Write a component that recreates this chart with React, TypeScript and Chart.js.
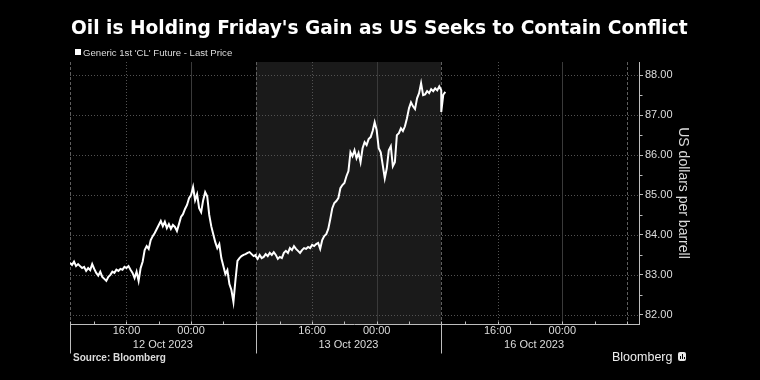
import React, { useEffect, useRef } from "react";
import { Chart, registerables } from "chart.js";

Chart.register(...registerables);

const FONT = "'Liberation Sans', Arial, sans-serif";

// ---- Data ----
const titleText = "Oil is Holding Friday's Gain as US Seeks to Contain Conflict";
const seriesName = "Generic 1st 'CL' Future - Last Price";
const yAxisTitle = "US dollars per barrell";
const sourceText = "Source: Bloomberg";

const sessionLabels = ["12 Oct 2023", "13 Oct 2023", "16 Oct 2023"];
const sessionStartHours = [0, 23, 46]; // hours since 12 Oct session open (09:00)
const sessionLength = 23;
const timeTickLabels = ["16:00", "00:00"];
const timeTickOffsets = [7, 15];
const minorTickOffsets = [3, 7, 11, 15, 19];
const sampleStepHours = 0.25;

const yTickValues = [82, 83, 84, 85, 86, 87, 88];
const yMin = 81.77;
const yMax = 88.33;
const xMax = 70.5;

const oct12Prices = [
  83.30, 83.25, 83.33, 83.22, 83.27, 83.22, 83.17, 83.20, 83.10, 83.17,
  83.12, 83.27, 83.15, 83.05, 82.98, 83.08, 82.95, 82.90, 82.85, 82.95,
  83.00, 83.08, 83.05, 83.13, 83.10, 83.15, 83.13, 83.20, 83.17, 83.22,
  83.13, 83.05, 82.92, 83.08, 82.85, 83.17, 83.33, 83.62, 83.72, 83.65,
  83.87, 83.97, 84.05, 84.15, 84.25, 84.35, 84.22, 84.33, 84.17, 84.27,
  84.15, 84.25, 84.20, 84.10, 84.27, 84.45, 84.52, 84.65, 84.75, 84.92,
  85.00, 85.20, 84.87, 85.02, 84.67, 84.57, 84.87, 85.07, 84.97, 84.50,
  84.22, 84.02, 83.82, 83.67, 83.77, 83.42, 83.22, 83.02, 83.12, 82.77,
  82.62, 82.32, 82.87, 83.35, 83.42, 83.47, 83.50, 83.52, 83.55, 83.57,
  83.52, 83.47, 83.50,
];

const oct13Prices = [
  83.47, 83.40, 83.50, 83.42, 83.45, 83.52, 83.47, 83.55, 83.50, 83.57,
  83.50, 83.40, 83.45, 83.42, 83.55, 83.60, 83.55, 83.67, 83.62, 83.72,
  83.65, 83.60, 83.55, 83.62, 83.67, 83.65, 83.70, 83.67, 83.75, 83.72,
  83.77, 83.80, 83.65, 83.87, 83.97, 84.02, 84.15, 84.40, 84.67, 84.80,
  84.85, 84.92, 85.17, 85.25, 85.30, 85.47, 85.60, 86.07, 85.97, 86.12,
  85.92, 86.05, 85.82, 86.17, 86.32, 86.25, 86.40, 86.45, 86.60, 86.82,
  86.62, 86.17, 86.07, 85.75, 85.42, 85.67, 86.12, 86.22, 85.72, 85.82,
  86.50, 86.55, 86.67, 86.60, 86.72, 86.92, 87.17, 87.32, 87.22, 87.15,
  87.42, 87.55, 87.80, 87.50, 87.52, 87.60, 87.55, 87.65, 87.60, 87.67,
  87.62, 87.72, 87.62,
];

const oct16Prices = [87.08, 87.51, 87.58];

function buildPoints(start: number, prices: number[]) {
  return prices.map((p, i) => ({ x: start + i * sampleStepHours, y: p }));
}

function hLine(ctx: CanvasRenderingContext2D, x1: number, x2: number, y: number) {
  ctx.beginPath();
  ctx.moveTo(x1, y);
  ctx.lineTo(x2, y);
  ctx.stroke();
}
function vLine(ctx: CanvasRenderingContext2D, x: number, y1: number, y2: number) {
  ctx.beginPath();
  ctx.moveTo(x, y1);
  ctx.lineTo(x, y2);
  ctx.stroke();
}

const decorPlugin = {
  id: "bbgDecor",
  beforeDatasetsDraw(chart: any) {
    const { ctx, chartArea: a, scales } = chart;
    const x = scales.x;
    const y = scales.y;
    const px = (v: number) => Math.round(x.getPixelForValue(v)) + 0.5;
    ctx.save();
    // shaded middle session
    const s1 = Math.round(x.getPixelForValue(sessionStartHours[1]));
    const s2 = Math.round(x.getPixelForValue(sessionStartHours[2]));
    ctx.fillStyle = "#1a1a1a";
    ctx.fillRect(s1, a.top, s2 - s1, a.bottom - a.top);

    ctx.lineWidth = 1;
    // horizontal dotted grid
    ctx.strokeStyle = "#525252";
    ctx.setLineDash([1, 2]);
    yTickValues.forEach((v) => {
      const py = Math.round(y.getPixelForValue(v)) + 0.5;
      hLine(ctx, a.left, a.right, py);
    });
    // vertical time grid
    sessionStartHours.forEach((start) => {
      ctx.setLineDash([1, 2]);
      ctx.strokeStyle = "#525252";
      vLine(ctx, px(start + timeTickOffsets[0]), a.top, a.bottom);
      ctx.setLineDash([]);
      ctx.strokeStyle = "#3a3a3a";
      vLine(ctx, px(start + timeTickOffsets[1]), a.top, a.bottom);
    });
    // session boundaries (dashed)
    ctx.setLineDash([3, 2]);
    ctx.strokeStyle = "#5e5e5e";
    [...sessionStartHours, sessionStartHours[2] + sessionLength].forEach((h) => {
      vLine(ctx, px(h), a.top, a.bottom);
    });
    ctx.restore();
  },
  afterDraw(chart: any) {
    const { ctx, chartArea: a, scales } = chart;
    const x = scales.x;
    const y = scales.y;
    const px = (v: number) => Math.round(x.getPixelForValue(v)) + 0.5;
    ctx.save();
    ctx.setLineDash([]);
    ctx.lineWidth = 1;
    ctx.strokeStyle = "#bdbdbd";
    // x axis line
    const by = Math.round(a.bottom) + 0.5;
    hLine(ctx, a.left, a.right, by);
    // minor x ticks (every 4h)
    sessionStartHours.forEach((start) => {
      minorTickOffsets.forEach((off) => vLine(ctx, px(start + off), by, by - 3));
    });
    [...sessionStartHours, sessionStartHours[2] + sessionLength].forEach((h) => vLine(ctx, px(h), by, by - 3));
    // session separators below axis
    sessionStartHours.forEach((start) => vLine(ctx, px(start), by, by + 29));
    // y minor ticks at half units
    const rx = Math.round(a.right) + 0.5;
    yTickValues.forEach((v) => {
      const h = v + 0.5;
      if (h < yMax) {
        const py = Math.round(y.getPixelForValue(h)) + 0.5;
        hLine(ctx, rx, rx + 3, py);
      }
    });
    // x labels
    ctx.fillStyle = "#dcdcdc";
    ctx.font = `11px ${FONT}`;
    ctx.textAlign = "center";
    ctx.textBaseline = "middle";
    sessionStartHours.forEach((start, si) => {
      timeTickOffsets.forEach((off, k) => {
        ctx.fillText(timeTickLabels[k], x.getPixelForValue(start + off), a.bottom + 7);
      });
      ctx.fillText(sessionLabels[si], x.getPixelForValue(start + sessionLength / 2), a.bottom + 21);
    });
    ctx.restore();
  },
};

export default function App() {
  const ref = useRef<HTMLCanvasElement | null>(null);

  useEffect(() => {
    document.body.style.margin = "0";
    document.body.style.background = "#000";
    const canvas = ref.current;
    if (!canvas) return;
    const points = [
      ...buildPoints(sessionStartHours[0], oct12Prices),
      ...buildPoints(sessionStartHours[1], oct13Prices),
      ...buildPoints(sessionStartHours[2], oct16Prices),
    ];
    const chart = new Chart(canvas, {
      type: "line",
      data: {
        datasets: [
          {
            label: seriesName,
            data: points,
            borderColor: "#ffffff",
            borderWidth: 2,
            pointRadius: 0,
            tension: 0,
            fill: false,
          },
        ],
      },
      options: {
        animation: false,
        responsive: false,
        devicePixelRatio: 1,
        layout: { padding: { left: 70, top: 62, right: 65, bottom: 56 } },
        plugins: { legend: { display: false }, tooltip: { enabled: false } },
        scales: {
          x: { type: "linear", min: 0, max: xMax, display: false },
          y: {
            type: "linear",
            position: "right",
            min: yMin,
            max: yMax,
            afterBuildTicks: (s: any) => {
              s.ticks = yTickValues.map((v) => ({ value: v }));
            },
            afterFit: (s: any) => {
              s.width = 56;
            },
            grid: { drawOnChartArea: false, drawTicks: true, tickLength: 4, tickColor: "#bdbdbd" },
            border: { display: true, color: "#bdbdbd", width: 1 },
            ticks: {
              color: "#dcdcdc",
              font: { family: FONT, size: 11 },
              padding: 2,
              callback: (v: any) => Number(v).toFixed(2),
            },
            title: {
              display: true,
              text: yAxisTitle,
              color: "#dcdcdc",
              font: { family: FONT, size: 14 },
              padding: { top: 4, bottom: 0 },
            },
          },
        },
      } as any,
      plugins: [decorPlugin],
    });
    return () => chart.destroy();
  }, []);

  return (
    <div style={{ position: "relative", width: 760, height: 380, background: "#000", overflow: "hidden" }}>
      <canvas ref={ref} width={760} height={380} style={{ position: "absolute", left: 0, top: 0, width: 760, height: 380 }} />
      <div
        style={{
          position: "absolute",
          left: 71,
          top: 16,
          font: "bold 18.6px 'DejaVu Sans', sans-serif",
          lineHeight: "24px",
          color: "#fff",
          whiteSpace: "nowrap",
        }}
      >
        {titleText}
      </div>
      <div style={{ position: "absolute", left: 75, top: 49, width: 6, height: 6, background: "#fff" }} />
      <div
        style={{
          position: "absolute",
          left: 83,
          top: 47,
          fontFamily: FONT,
          fontSize: 9.6,
          lineHeight: "11px",
          color: "#dcdcdc",
          whiteSpace: "nowrap",
        }}
      >
        {seriesName}
      </div>
      <div
        style={{
          position: "absolute",
          left: 73,
          top: 352,
          fontFamily: FONT,
          fontWeight: "bold",
          fontSize: 10,
          lineHeight: "12px",
          color: "#dcdcdc",
          whiteSpace: "nowrap",
        }}
      >
        {sourceText}
      </div>
      <div
        style={{
          position: "absolute",
          left: 612,
          top: 349,
          fontFamily: FONT,
          fontSize: 12.5,
          lineHeight: "16px",
          color: "#eeeeee",
          whiteSpace: "nowrap",
        }}
      >
        Bloomberg
      </div>
      <div
        style={{
          position: "absolute",
          left: 678,
          top: 352,
          width: 8,
          height: 9,
          background: "#e6e6e6",
          borderRadius: 2,
        }}
      >
        <div style={{ position: "absolute", left: 2, top: 4, width: 1, height: 3, background: "#000" }} />
        <div style={{ position: "absolute", left: 4, top: 2, width: 1, height: 5, background: "#000" }} />
        <div style={{ position: "absolute", left: 6, top: 5, width: 1, height: 2, background: "#000" }} />
      </div>
    </div>
  );
}
